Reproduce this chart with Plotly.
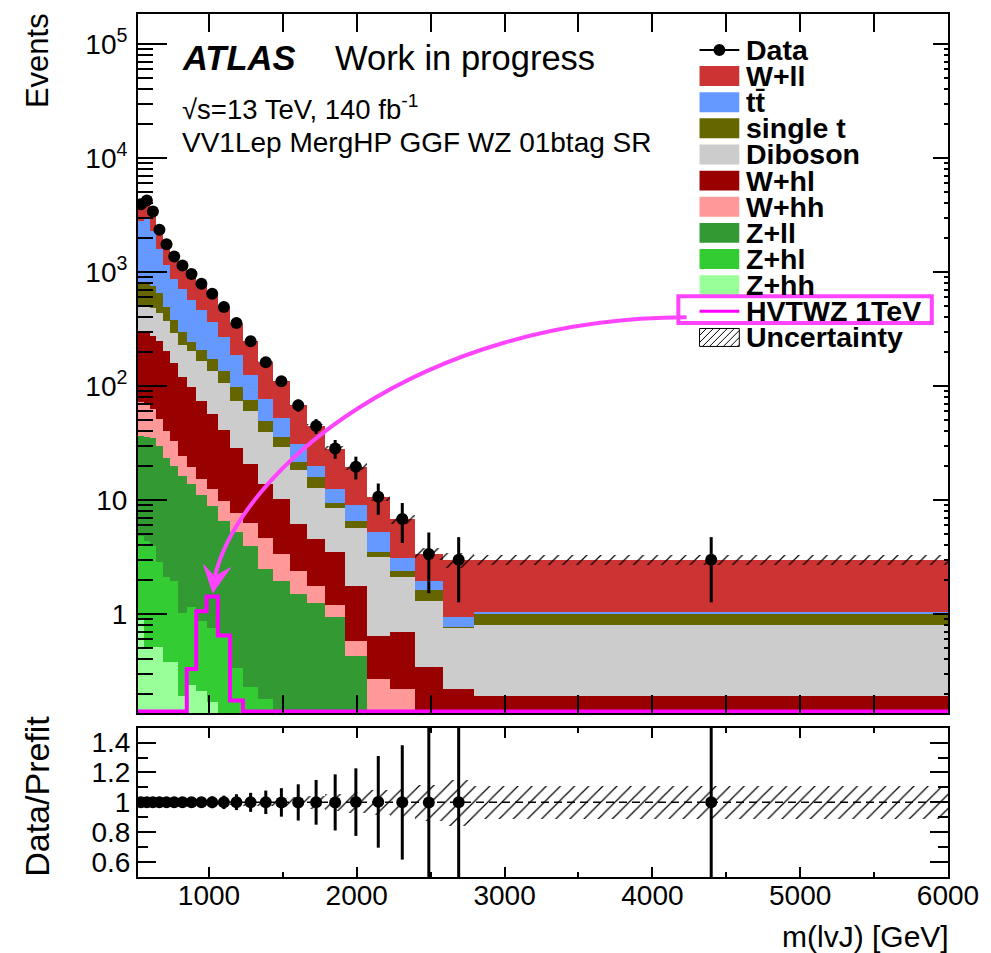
import numpy as np
import plotly.graph_objects as go

# ---------------- data ----------------
edges = [520, 560, 600, 642, 688, 738, 792, 850, 914, 984, 1060, 1142, 1230, 1334,
         1435, 1545, 1663, 1787, 1921, 2067, 2224, 2392, 2583, 2796, 6000]

data = [3927, 4231, 3390, 2345, 1754, 1369, 1142, 959, 790, 646, 493, 357, 247, 162,
        110, 67.8, 44.6, 28.3, 19.6, 10.7, 6.81, 3.36, 3.0, 3.0]

z_hh = [0.88, 0.51, 0.51, 0.51, 0.38, 0.38, 0.19, 0.24, 0.21, 0.17, 0.12, 0.08, 0.05, 0.04,
        0.035, 0.03, 0.024, 0.019, 0.016, 0.013, 0.011, 0.0085, 0.007, 0.006]
z_hl = [3.98, 3.89, 3.47, 2.33, 1.75, 1.58, 0.84, 0.91, 0.66, 0.58, 0.53, 0.26, 0.18, 0.14,
        0.08, 0.07, 0.054, 0.045, 0.036, 0.03, 0.024, 0.02, 0.017, 0.013]
z_ll = [31.6, 31.3, 31.0, 27.0, 21.4, 17.9, 15.3, 12.7, 10.2, 8.15, 5.93, 4.87, 3.75, 2.31,
        1.84, 1.41, 1.18, 0.87, 0.38, 0.053, 0.052, 0.035, 0.028, 0.024]
w_hh = [35.8, 33.7, 27.8, 21.5, 16.8, 13.1, 8.1, 5.6, 4.2, 3.6, 3.26, 2.53, 2.34, 2.17,
        1.42, 0.89, 0.52, 0.26, 0.15, 0.175, 0.135, 0.042, 0.035, 0.028]
w_hl = [230, 221, 210, 196, 162, 126, 95.6, 78.3, 58.5, 44.3, 31.3, 20.9, 14.3, 9.1,
        6.8, 3.75, 2.77, 2.28, 1.19, 0.377, 0.47, 0.236, 0.135, 0.119]
diboson = [198, 220, 207, 187, 168, 133, 111, 104, 91, 78, 66, 45, 39.7, 26,
           19, 12.2, 8.15, 5.13, 3.97, 2.53, 1.41, 0.97, 0.545, 0.614]
single_t = [279, 301, 268, 216, 120, 85, 65, 40, 41, 37, 28, 24, 15, 9.5,
            6.5, 3.3, 3.3, 0.91, 0.83, 0.36, 0.27, 0.30, 0.01, 0.196]
ttbar = [2032, 2133, 1564, 927, 652, 485, 408, 322, 255, 190, 133, 88, 49.7, 27,
         16.4, 9.6, 3.9, 3.1, 2.5, 1.73, 0.71, 0.35, 0.16, 0.05]
w_ll = [1116, 1287, 1078, 768, 612, 507, 438, 395, 329, 284, 225, 171, 122, 85.7,
        58, 36.6, 24.7, 15.7, 10.5, 5.4, 3.73, 1.40, 2.06, 1.95]

signal = [0, 0, 0, 0, 0, 0, 0, 0.33, 1.06, 1.43, 0.65, 0.175, 0, 0,
          0, 0, 0, 0, 0, 0, 0, 0, 0, 0]

rel_unc = [0.01, 0.01, 0.01, 0.01, 0.01, 0.012, 0.012, 0.013, 0.014, 0.015, 0.016, 0.018,
           0.02, 0.025, 0.03, 0.035, 0.045, 0.055, 0.07, 0.085, 0.095, 0.12, 0.155, 0.11]

legend_labels = ["Data", "W+ll", "tt\u0304", "single t", "Diboson", "W+hl", "W+hh",
                 "Z+ll", "Z+hl", "Z+hh", "HVTWZ 1TeV", "Uncertainty"]

# ---------------- styling ----------------
colors = {
    "W+ll": "#CC3333", "tt": "#6699FF", "single t": "#666600", "Diboson": "#CCCCCC",
    "W+hl": "#990000", "W+hh": "#FF9999", "Z+ll": "#339933", "Z+hl": "#33CC33",
    "Z+hh": "#99FF99",
}
SIG = "#FF00FF"
PINK = "#FF44FF"
FONT = "Liberation Sans"

W, H = 991, 953
L, R, T, B = 138, 38, 12, 76
PW, PH = W - L - R, H - T - B


def px(x):
    return (x - L) / PW


def py(y):
    return (H - B - y) / PH


edges_a = np.array(edges, float)
centers = 0.5 * (edges_a[1:] + edges_a[:-1])
widths = edges_a[1:] - edges_a[:-1]
data_a = np.array(data, float)

stack = [(z_hh, "Z+hh"), (z_hl, "Z+hl"), (z_ll, "Z+ll"), (w_hh, "W+hh"), (w_hl, "W+hl"),
         (diboson, "Diboson"), (single_t, "single t"), (ttbar, "tt"), (w_ll, "W+ll")]

fig = go.Figure()
base = np.full(len(centers), 1e-4)
for vals, name in stack:
    v = np.array(vals, float)
    fig.add_trace(go.Bar(x=centers, y=v, base=base, width=widths, xaxis="x", yaxis="y",
                         marker=dict(color=colors[name], line=dict(width=0)), name=name))
    base = base + v
total = base - 1e-4
unc = np.array(rel_unc) * total

hatch = dict(shape="/", fgcolor="black", bgcolor="rgba(0,0,0,0)", size=10, solidity=0.12,
             fillmode="replace")
fig.add_trace(go.Bar(x=centers, y=2 * unc, base=total - unc, width=widths, xaxis="x", yaxis="y",
                     marker=dict(color="black", line=dict(width=0), pattern=hatch)))

ylo, yhi = -0.868, 5.2625
floor = 0.14
sig = np.maximum(np.array(signal, float), floor)
fig.add_trace(go.Scatter(x=edges_a, y=np.append(sig, sig[-1]), mode="lines", xaxis="x", yaxis="y",
                         line=dict(color=SIG, width=4, shape="hv")))

fig.add_trace(go.Scatter(x=centers, y=data_a, mode="markers", xaxis="x", yaxis="y",
                         marker=dict(color="black", size=12),
                         error_y=dict(type="data", array=np.sqrt(data_a), color="black",
                                      thickness=3, width=0)))
fig.add_trace(go.Scatter(x=[None], y=[None], xaxis="x", yaxis="y3", showlegend=False))

# ratio panel
fig.add_trace(go.Bar(x=centers, y=2 * np.array(rel_unc), base=1 - np.array(rel_unc), width=widths,
                     xaxis="x2", yaxis="y2", marker=dict(color="black", line=dict(width=0), pattern=hatch)))
ratio = data_a / total
fig.add_trace(go.Scatter(x=centers, y=ratio, mode="markers", xaxis="x2", yaxis="y2",
                         marker=dict(color="black", size=12),
                         error_y=dict(type="data", array=np.sqrt(data_a) / total, color="black",
                                      thickness=3, width=0)))

# ---------------- axes ----------------
tickfont = dict(family=FONT, size=28, color="black")
major_y = [1, 10, 100, 1e3, 1e4, 1e5]
minor_y = [m * 10.0 ** k for k in range(-1, 6) for m in range(2, 10)
           if 10 ** ylo <= m * 10.0 ** k <= 10 ** yhi]

main_dom = [py(712.7), 1.0]
ratio_dom = [0.0, py(727.3)]

fig.update_layout(
    width=W, height=H, margin=dict(l=L, r=R, t=T, b=B, pad=0),
    paper_bgcolor="white", plot_bgcolor="white", showlegend=False,
    barmode="overlay", bargap=0,
    xaxis=dict(domain=[0, 1], anchor="y", range=[520, 6000], showticklabels=False,
               showline=True, linecolor="black", linewidth=2, mirror="allticks",
               ticks="inside", tickvals=[1000, 2000, 3000, 4000, 5000, 6000], ticklen=18,
               tickwidth=1.5, tickcolor="black", showgrid=False, zeroline=False,
               minor=dict(ticks="inside", tickvals=[1500, 2500, 3500, 4500, 5500], ticklen=9,
                          tickwidth=1.5, tickcolor="black", showgrid=False)),
    yaxis=dict(domain=main_dom, anchor="x", type="log", range=[ylo, yhi],
               showline=True, linecolor="black", linewidth=2, mirror=True,
               ticks="inside", tickvals=major_y,
               ticktext=["1", "10", "10<sup>2</sup>", "10<sup>3</sup>", "10<sup>4</sup>",
                         "10<sup>5</sup>"],
               ticklen=29, tickwidth=1.5, tickcolor="black", tickfont=tickfont,
               ticklabelstandoff=3, showgrid=False, zeroline=False,
               minor=dict(ticks="inside", tickvals=minor_y, ticklen=15, tickwidth=1.5,
                          tickcolor="black", showgrid=False)),
    yaxis3=dict(overlaying="y", side="right", type="log", range=[ylo, yhi], anchor="x",
                showline=False, ticks="inside", tickvals=major_y, ticklen=15, tickwidth=1.5,
                tickcolor="black", showticklabels=False, showgrid=False, zeroline=False,
                minor=dict(ticks="inside", tickvals=minor_y, ticklen=4, tickwidth=1.5,
                           tickcolor="black", showgrid=False)),
    xaxis2=dict(domain=[0, 1], anchor="y2", range=[520, 6000], matches="x",
                showline=True, linecolor="black", linewidth=2, mirror="allticks",
                ticks="inside", tickvals=[1000, 2000, 3000, 4000, 5000, 6000],
                ticktext=["1000", "2000", "3000", "4000", "5000", "6000"],
                ticklen=10, tickwidth=1.5, tickcolor="black", tickfont=tickfont,
                ticklabelstandoff=-8, showgrid=False, zeroline=False,
                minor=dict(ticks="inside", tickvals=[1500, 2500, 3500, 4500, 5500], ticklen=5,
                           tickwidth=1.5, tickcolor="black", showgrid=False)),
    yaxis2=dict(domain=ratio_dom, anchor="x2", range=[0.5, 1.5],
                showline=True, linecolor="black", linewidth=2, mirror="allticks",
                ticks="inside", tickvals=[0.6, 0.8, 1.0, 1.2, 1.4],
                ticktext=["0.6", "0.8", "1", "1.2", "1.4"],
                ticklen=18, tickwidth=1.5, tickcolor="black", tickfont=tickfont,
                ticklabelstandoff=0, showgrid=False, zeroline=False,
                minor=dict(ticks="inside", tickvals=[0.7, 0.9, 1.1, 1.3], ticklen=10,
                           tickwidth=1.5, tickcolor="black", showgrid=False)),
)

shapes = []
annotations = []

shapes.append(dict(type="line", xref="x2", yref="y2", x0=520, x1=6000, y0=1, y1=1, layer="below",
                   line=dict(color="black", width=1.5, dash="8px,5px")))

# ---------------- texts ----------------
def text(x, y, s, size, xanchor="left", yanchor="middle", angle=0):
    annotations.append(dict(x=x, y=y, xref="paper", yref="paper", text=s, showarrow=False,
                            xanchor=xanchor, yanchor=yanchor, textangle=angle, borderpad=0,
                            font=dict(family=FONT, size=size, color="black")))


text(px(181.7), py(56), "<b><i>ATLAS</i></b>", 34.5)
text(px(335.7), py(56), "Work in progress", 34.5)
text(px(181.7), py(106), "\u221as=13 TeV, 140 fb<sup>-1</sup>", 27.5)
text(px(181.7), py(141), "VV1Lep MergHP GGF WZ 01btag SR", 28)
text(px(37), py(10), "Events", 31, xanchor="center", yanchor="top", angle=-90)
text(px(37), py(796), "Data/Prefit", 34, xanchor="center", yanchor="middle", angle=-90)
text(px(955), py(937), "m(lvJ) [GeV]", 30, xanchor="right")

# ---------------- legend (drawn by hand) ----------------
lx0, lx1 = 703, 743
fill_keys = [None, "W+ll", "tt", "single t", "Diboson", "W+hl", "W+hh", "Z+ll", "Z+hl", "Z+hh"]
for i, lab in enumerate(legend_labels):
    c = 48 + 26.2 * i
    text(px(749), py(c), "<b>" + lab + "</b>", 28.5)
    if i == 0:
        shapes.append(dict(type="line", xref="paper", yref="paper", x0=px(lx0), x1=px(lx1),
                           y0=py(c), y1=py(c), line=dict(color="black", width=2)))
        shapes.append(dict(type="circle", xref="paper", yref="paper", x0=px(717), x1=px(729),
                           y0=py(c + 6), y1=py(c - 6), fillcolor="black",
                           line=dict(color="black", width=0)))
    elif i < 10:
        shapes.append(dict(type="rect", xref="paper", yref="paper", x0=px(lx0), x1=px(lx1),
                           y0=py(c + 10), y1=py(c - 10), fillcolor=colors[fill_keys[i]],
                           line=dict(width=0)))
    elif i == 10:
        shapes.append(dict(type="line", xref="paper", yref="paper", x0=px(lx0), x1=px(lx1),
                           y0=py(c), y1=py(c), line=dict(color=SIG, width=3)))
    else:
        yt, yb = c - 9, c + 9
        shapes.append(dict(type="rect", xref="paper", yref="paper", x0=px(lx0), x1=px(lx1),
                           y0=py(yb), y1=py(yt), line=dict(color="black", width=1)))
        h = yb - yt
        s = lx0 - h
        while s < lx1:
            xa, ya = s, yb
            xb, yb2 = s + h, yt
            if xa < lx0:
                ya = yb - (lx0 - s)
                xa = lx0
            if xb > lx1:
                yb2 = yb - (lx1 - s)
                xb = lx1
            shapes.append(dict(type="line", xref="paper", yref="paper", x0=px(xa), y0=py(ya),
                               x1=px(xb), y1=py(yb2), line=dict(color="black", width=1)))
            s += 7

# highlight box and arrow
shapes.append(dict(type="rect", xref="paper", yref="paper", x0=px(681.7), x1=px(936.7),
                   y0=py(321.7), y1=py(295), line=dict(color=PINK, width=4)))
path = (f"M {px(690)},{py(316)} C {px(420)},{py(316)} {px(240)},{py(470)} "
        f"{px(215)},{py(577)}")
shapes.append(dict(type="path", xref="paper", yref="paper", path=path,
                   line=dict(color=PINK, width=4)))
head = (f"M {px(213.3)},{py(592)} L {px(204)},{py(564)} L {px(215)},{py(576)} "
        f"L {px(231)},{py(567)} Z")
shapes.append(dict(type="path", xref="paper", yref="paper", path=head, fillcolor=PINK,
                   line=dict(color=PINK, width=1)))

fig.update_layout(shapes=shapes, annotations=annotations)
fig.write_html("out.html")
